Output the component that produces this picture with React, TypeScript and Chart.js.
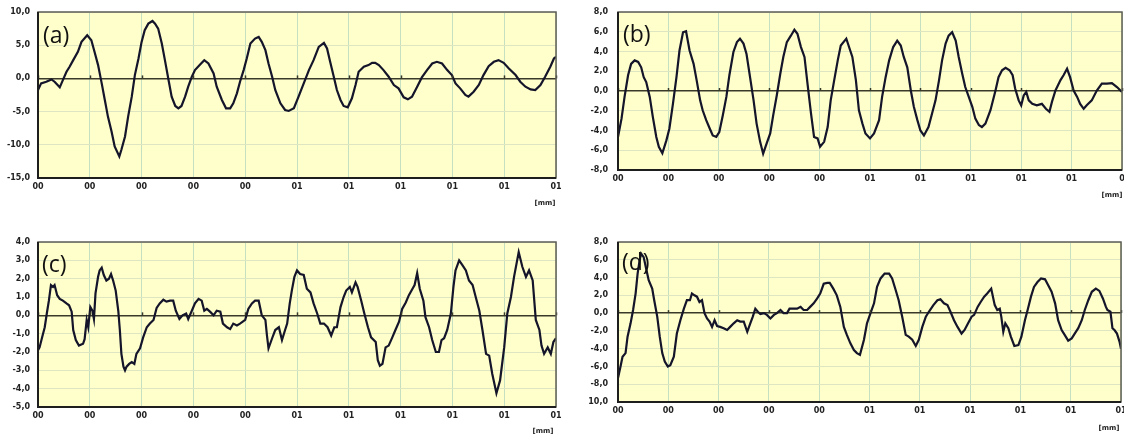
import React, { useEffect, useRef } from "react";
import { Chart, registerables } from "chart.js";
Chart.register(...registerables);

// ---------- tick labels ----------
const xTickLabels = ["00", "00", "00", "00", "00", "01", "01", "01", "01", "01", "01"];
const xTickLabelsB = ["00", "00", "00", "00", "00", "01", "01", "01", "01", "01", "0"];
const yTickLabelsA = ["-15,0", "-10,0", "-5,0", "0,0", "5,0", "10,0"];
const yTickLabelsB = ["-8,0", "-6,0", "-4,0", "-2,0", "0,0", "2,0", "4,0", "6,0", "8,0"];
const yTickLabelsC = ["-5,0", "-4,0", "-3,0", "-2,0", "-1,0", "0,0", "1,0", "2,0", "3,0", "4,0"];
const yTickLabelsD = ["10,0", "-8,0", "-6,0", "-4,0", "-2,0", "0,0", "2,0", "4,0", "6,0", "8,0"];
const panelNames = ["(a)", "(b)", "(c)", "(d)"];
const unitLabel = "[mm]";

// ---------- series (a) ----------
const xA = [0,0.06,0.16,0.26,0.32,0.42,0.48,0.55,0.61,0.68,0.77,0.84,0.95,1.03,1.10,1.16,1.23,1.29,1.35,1.42,
  1.48,1.57,1.61,1.68,1.74,1.81,1.87,1.94,2.00,2.06,2.13,2.21,2.26,2.32,2.39,2.45,2.52,2.58,2.65,2.71,
  2.77,2.84,2.90,2.97,3.03,3.13,3.21,3.29,3.39,3.45,3.55,3.63,3.71,3.77,3.84,3.90,3.97,4.03,4.10,4.19,
  4.26,4.32,4.39,4.45,4.52,4.58,4.68,4.77,4.84,
  4.94,5.03,5.13,5.23,5.32,5.42,5.52,5.58,5.64,5.71,5.77,5.84,5.90,5.98,6.06,6.13,6.19,6.29,6.38,6.45,
  6.51,6.58,6.67,6.77,6.87,6.96,7.06,7.14,7.22,7.32,7.41,7.51,7.61,7.70,7.80,7.90,7.99,8.06,8.15,8.25,
  8.31,8.41,8.51,8.60,8.70,8.80,8.89,8.99,9.09,9.22,9.31,9.41,9.51,9.60,9.70,9.79,9.89,9.96,10.0];
const yA = [-1.75,-0.75,-0.5,-0.15,-0.5,-1.35,-0.25,1,1.75,2.75,4,5.5,6.5,5.75,3.75,2,-0.75,-3.25,-5.75,-8,
  -10.25,-11.75,-10.75,-8.75,-5.75,-2.75,0.5,3,5.5,7.25,8.25,8.65,8.25,7.5,5.25,2.75,-0.25,-2.75,-4.15,-4.5,
  -4.15,-2.75,-1.25,0.25,1.25,2.1,2.75,2.25,0.75,-1.25,-3.25,-4.5,-4.5,-3.75,-2.25,-0.5,1.25,3,5.25,6,
  6.25,5.5,4.25,2.25,0.25,-1.75,-3.75,-4.75,-4.9,
  -4.5,-2.75,-0.75,1.25,2.75,4.75,5.35,4.5,2.5,0.25,-1.75,-3.25,-4.15,-4.35,-3,-1,1,1.75,2,2.35,
  2.35,2,1.25,0.25,-1,-1.5,-2.85,-3.15,-2.75,-1.25,0.15,1.25,2.25,2.5,2.25,1.25,0.5,-0.75,-1.5,-2.5,
  -2.75,-2,-1,0.5,1.85,2.5,2.75,2.35,1.5,0.5,-0.5,-1.25,-1.65,-1.75,-1,0.25,1.75,3,3.25];

// ---------- series (b) ----------
const xB = [0,0.07,0.13,0.20,0.26,0.33,0.40,0.46,0.51,0.56,0.63,0.69,0.76,0.81,0.88,0.96,1.02,1.09,1.16,1.22,
  1.29,1.35,1.42,1.50,1.56,1.63,1.68,1.75,1.82,1.88,1.95,2.01,2.08,2.15,2.21,2.29,2.36,2.42,2.49,2.55,
  2.62,2.69,2.75,2.82,2.88,2.95,3.02,3.08,3.15,3.22,3.28,3.35,3.43,3.50,3.56,3.63,3.70,3.76,3.83,3.89,
  3.96,4.01,4.09,4.16,4.22,4.29,4.36,4.42,4.53,
  4.65,4.72,4.78,4.85,4.91,5.0,5.08,5.18,5.24,5.31,5.38,5.46,5.54,5.61,5.67,5.74,5.81,5.87,5.94,6.0,
  6.07,6.16,6.23,6.30,6.37,6.43,6.50,6.56,6.63,6.70,6.76,6.83,6.89,6.96,7.03,7.09,7.16,7.22,7.29,7.39,
  7.49,7.55,7.62,7.69,7.77,7.83,7.88,7.95,8.0,8.05,8.10,8.15,8.22,8.31,8.41,8.49,8.56,8.61,8.68,8.78,
  8.84,8.91,8.97,9.04,9.11,9.17,9.24,9.30,9.40,9.50,9.60,9.70,9.80,9.90,10.0];
const yB = [-4.65,-2.8,-0.6,1.6,2.75,3.1,2.95,2.4,1.4,0.9,-0.6,-2.6,-4.65,-5.65,-6.3,-5,-3.8,-1.3,1.4,4.1,
  5.95,6.05,4.1,2.75,1.1,-0.95,-1.95,-2.95,-3.8,-4.5,-4.65,-4.15,-2.45,-0.6,1.6,3.95,4.95,5.3,4.8,3.75,
  1.4,-0.95,-3.3,-5.15,-6.35,-5.3,-4.3,-2.45,-0.45,1.75,3.45,4.95,5.6,6.2,5.8,4.45,3.45,0.75,-2.3,-4.65,
  -4.8,-5.65,-5.15,-3.65,-0.95,1.1,3.1,4.6,5.3,
  3.45,1.1,-1.95,-3.3,-4.3,-4.8,-4.3,-2.95,-0.6,1.4,3.1,4.45,5.1,4.6,3.45,2.4,0.05,-1.6,-2.95,-4,
  -4.5,-3.65,-2.3,-0.95,1.1,3.1,4.8,5.6,5.95,5.1,3.45,1.75,0.4,-0.6,-1.6,-2.8,-3.45,-3.65,-3.3,-1.95,
  0.05,1.4,2.1,2.35,2.1,1.6,0.25,-0.95,-1.45,-0.45,-0.1,-0.95,-1.3,-1.45,-1.3,-1.8,-2.1,-1.1,0.05,1.1,
  1.6,2.25,1.4,0.05,-0.6,-1.3,-1.8,-1.45,-0.95,0.05,0.75,0.75,0.8,0.4,-0.1];

// ---------- series (c) ----------
const xC = [0,0.03,0.08,0.13,0.17,0.21,0.25,0.29,0.32,0.37,0.42,0.48,0.55,0.60,0.65,0.68,0.73,0.79,0.87,0.90,
  0.94,0.97,1.01,1.05,1.08,1.11,1.16,1.19,1.23,1.27,1.32,1.37,1.41,1.45,1.50,1.55,1.58,1.61,1.65,1.68,
  1.71,1.76,1.81,1.86,1.90,1.97,2.03,2.10,2.16,2.23,2.29,2.35,2.42,2.48,2.55,2.61,2.66,2.73,2.79,2.86,
  2.90,2.97,3.03,3.10,3.16,3.21,3.26,3.32,3.39,3.45,3.52,3.57,3.65,3.71,3.77,3.84,3.90,4.0,4.06,4.13,
  4.19,4.26,4.32,4.39,4.42,4.45,4.52,4.58,4.65,4.71,4.77,
  4.81,4.86,4.90,4.95,5.0,5.06,5.13,5.19,5.26,5.32,5.39,5.45,5.52,5.59,5.66,5.72,5.77,5.84,5.90,5.95,
  6.02,6.06,6.13,6.17,6.24,6.30,6.37,6.43,6.52,6.56,6.60,6.65,6.71,6.77,6.84,6.90,6.97,7.03,7.10,7.16,
  7.23,7.27,7.32,7.37,7.44,7.48,7.55,7.61,7.68,7.74,7.79,7.84,7.90,7.97,8.02,8.06,8.13,8.19,8.26,8.32,
  8.39,8.45,8.52,8.58,8.65,8.71,8.77,8.85,8.92,9.0,9.06,9.13,9.19,9.28,9.35,9.42,9.48,9.55,9.61,9.68,
  9.72,9.77,9.84,9.90,9.95,10.0];
const yC = [-1.9,-1.75,-1.2,-0.65,0.1,0.8,1.65,1.55,1.65,1.1,0.9,0.8,0.65,0.55,0.2,-0.8,-1.35,-1.65,-1.55,-1.3,
  -0.25,-0.65,0.45,0.25,-0.2,1.2,2.1,2.45,2.6,2.2,1.9,2.0,2.25,1.9,1.35,0.25,-0.8,-2.1,-2.8,-3.0,
  -2.8,-2.65,-2.55,-2.65,-2.1,-1.8,-1.2,-0.65,-0.45,-0.25,0.4,0.65,0.85,0.75,0.8,0.8,0.25,-0.2,0,0.1,
  -0.2,0.25,0.65,0.9,0.8,0.25,0.35,0.2,0,0.25,0.2,-0.45,-0.65,-0.75,-0.45,-0.55,-0.45,-0.25,0.35,0.65,
  0.8,0.8,0,-0.25,-1.1,-1.8,-1.25,-0.8,-0.65,-1.35,-0.8,
  -0.45,0.65,1.35,2.1,2.45,2.25,2.2,1.45,1.25,0.65,0.1,-0.45,-0.45,-0.65,-1.1,-0.65,-0.65,0.45,1.0,1.35,
  1.55,1.25,1.8,1.55,0.8,0.1,-0.65,-1.2,-1.45,-2.45,-2.75,-2.65,-1.75,-1.65,-1.2,-0.8,-0.35,0.35,0.7,1.1,
  1.45,1.65,2.3,1.45,0.8,-0.1,-0.65,-1.35,-2.0,-2.0,-1.35,-1.25,-0.8,0.1,1.55,2.45,3.0,2.75,2.45,1.9,
  1.65,1.0,0.25,-0.8,-2.1,-2.2,-3.2,-4.25,-3.55,-1.75,0.1,1.0,2.1,3.45,2.65,2.1,2.45,1.9,-0.25,-0.8,
  -1.65,-2.1,-1.75,-2.1,-1.45,-1.25];

// ---------- series (d) ----------
const xD = [0,0.05,0.09,0.15,0.19,0.25,0.30,0.35,0.39,0.43,0.46,0.51,0.56,0.61,0.68,0.72,0.78,0.83,0.88,0.93,
  0.99,1.04,1.11,1.17,1.24,1.31,1.37,1.43,1.47,1.52,1.57,1.62,1.67,1.72,1.77,1.82,1.87,1.92,1.97,2.03,
  2.10,2.17,2.23,2.30,2.37,2.43,2.50,2.57,2.63,2.68,2.73,2.78,2.83,2.90,2.96,3.03,3.10,3.16,3.23,3.29,
  3.36,3.41,3.49,3.56,3.63,3.69,3.76,3.82,3.89,3.96,4.02,4.09,4.16,4.21,4.28,4.35,4.42,4.49,4.55,4.62,
  4.69,4.75,4.81,
  4.89,4.95,5.02,5.09,5.15,5.22,5.30,5.39,5.45,5.52,5.58,5.65,5.72,5.78,5.85,5.92,5.98,6.05,6.12,6.18,
  6.27,6.35,6.41,6.48,6.55,6.61,6.68,6.75,6.83,6.89,6.96,7.03,7.08,7.15,7.21,7.28,7.34,7.42,7.49,7.54,
  7.59,7.62,7.66,7.70,7.76,7.81,7.88,7.96,8.02,8.09,8.15,8.21,8.27,8.34,8.41,8.49,8.55,8.62,8.69,8.75,
  8.82,8.88,8.95,9.02,9.08,9.15,9.22,9.28,9.35,9.42,9.50,9.57,9.64,9.70,9.73,9.79,9.83,9.87,9.92,9.97,
  10.0];
const yD = [-7.3,-6.0,-4.9,-4.5,-2.65,-1.15,0.35,2.2,4.45,5.95,6.7,6.3,5.0,3.7,2.75,1.45,-0.4,-2.65,-4.5,-5.45,
  -6.0,-5.85,-4.9,-2.3,-0.8,0.5,1.45,1.45,2.2,2.0,1.85,1.25,1.45,0,-0.6,-0.95,-1.55,-0.8,-1.45,-1.55,
  -1.7,-1.9,-1.55,-1.15,-0.8,-0.95,-0.95,-2.1,-1.15,-0.4,0.5,0.15,-0.1,0,-0.2,-0.6,-0.2,0,0.35,0,
  0,0.5,0.5,0.5,0.7,0.35,0.35,0.7,1.1,1.65,2.2,3.3,3.4,3.4,2.75,2.0,0.7,-1.55,-2.45,-3.4,
  -4.15,-4.5,-4.7,
  -3.0,-1.15,0,1.1,2.95,3.9,4.45,4.45,3.9,2.6,1.45,-0.4,-2.45,-2.65,-3.0,-3.7,-3.0,-1.55,-0.4,0.15,
  0.9,1.45,1.55,1.1,0.9,0.15,-0.8,-1.55,-2.3,-1.9,-1.15,-0.4,-0.2,0.7,1.25,1.85,2.2,2.75,0.9,0.35,
  0.5,-0.4,-2.1,-1.15,-1.7,-2.65,-3.7,-3.6,-2.65,-0.8,0.5,1.85,2.95,3.5,3.9,3.8,3.15,2.4,1.1,-0.8,
  -1.9,-2.45,-3.1,-2.85,-2.3,-1.7,-0.8,0.35,1.45,2.4,2.75,2.5,1.65,0.7,0.35,0.15,-1.7,-1.9,-2.3,-3.2,
  -4.0];

// ---------- panel layout ----------
type Panel = {
  name: string; xs: number[]; ys: number[];
  yMin: number; yMax: number; yStep: number;
  xLabels: string[]; yLabels: string[];
  left: number; top: number; w: number; h: number;
  padTop: number; padRight: number; yW: number; xH: number;
  nameX: number; nameY: number; unitX: number; unitY: number;
  yPad: number;
};

const panels: Panel[] = [
  { name: panelNames[0], xs: xA, ys: yA, yMin: -15, yMax: 10, yStep: 5, xLabels: xTickLabels, yLabels: yTickLabelsA,
    left: 0, top: 0, w: 564, h: 216, padTop: 12, padRight: 8, yW: 38, xH: 38,
    nameX: 43, nameY: 36, unitX: 545, unitY: 203, yPad: 8 },
  { name: panelNames[1], xs: xB, ys: yB, yMin: -8, yMax: 8, yStep: 2, xLabels: xTickLabelsB, yLabels: yTickLabelsB,
    left: 570, top: 0, w: 554, h: 216, padTop: 12, padRight: 2, yW: 48, xH: 46,
    nameX: 53, nameY: 35, unitX: 542, unitY: 195, yPad: 10 },
  { name: panelNames[2], xs: xC, ys: yC, yMin: -5, yMax: 4, yStep: 1, xLabels: xTickLabels, yLabels: yTickLabelsC,
    left: 0, top: 218, w: 564, h: 218, padTop: 24, padRight: 8, yW: 38, xH: 29,
    nameX: 42, nameY: 47, unitX: 543, unitY: 213, yPad: 8 },
  { name: panelNames[3], xs: xD, ys: yD, yMin: -10, yMax: 8, yStep: 2, xLabels: xTickLabels, yLabels: yTickLabelsD,
    left: 570, top: 218, w: 554, h: 218, padTop: 24, padRight: 3, yW: 48, xH: 34,
    nameX: 52, nameY: 45, unitX: 539, unitY: 210, yPad: 10 },
];

const tickFont = { family: "'DejaVu Sans', sans-serif", size: 8, weight: "bold" as const };

const decoPlugin = {
  id: "panelDeco",
  beforeDraw(chart: any) {
    const { ctx, chartArea: a } = chart;
    ctx.save();
    ctx.fillStyle = "#FFFFCC";
    ctx.fillRect(a.left, a.top, a.right - a.left, a.bottom - a.top);
    ctx.restore();
  },
  afterDatasetsDraw(chart: any, _args: any, opts: any) {
    const { ctx, chartArea: a, scales } = chart;
    ctx.save();
    // small tick marks on the zero line
    const y0 = scales.y.getPixelForValue(0);
    ctx.strokeStyle = "#3a3a2a";
    ctx.lineWidth = 1.5;
    scales.x.ticks.forEach((t: any) => {
      const px = Math.round(scales.x.getPixelForValue(t.value)) + 0.5;
      ctx.beginPath();
      ctx.moveTo(px, y0 - 3);
      ctx.lineTo(px, y0);
      ctx.stroke();
    });
    // frame
    ctx.strokeStyle = "#5e5e56";
    ctx.lineWidth = 1.5;
    ctx.strokeRect(a.left, a.top, a.right - a.left, a.bottom - a.top);
    ctx.strokeStyle = "#1e1e1e";
    ctx.lineWidth = 2;
    ctx.beginPath();
    ctx.moveTo(a.left, a.top);
    ctx.lineTo(a.left, a.bottom);
    ctx.lineTo(a.right, a.bottom);
    ctx.stroke();
    // panel name
    ctx.fillStyle = "#111111";
    ctx.font = "23px 'Open Sans', sans-serif";
    ctx.textBaseline = "middle";
    ctx.textAlign = "left";
    ctx.fillText(opts.name, opts.nameX, opts.nameY);
    // unit
    ctx.font = "bold 7px 'DejaVu Sans', sans-serif";
    ctx.textAlign = "center";
    ctx.fillStyle = "#222222";
    ctx.fillText(unitLabel, opts.unitX, opts.unitY);
    ctx.restore();
  },
};

function PanelChart({ p }: { p: Panel }) {
  const ref = useRef<HTMLCanvasElement | null>(null);
  useEffect(() => {
    if (!ref.current) return;
    const data = p.xs.map((x, i) => ({ x, y: p.ys[i] }));
    const chart = new Chart(ref.current, {
      type: "line",
      data: {
        datasets: [
          { data, borderColor: "#14142a", borderWidth: 2.2, pointRadius: 0, tension: 0, fill: false },
        ],
      },
      options: {
        animation: false,
        responsive: false,
        devicePixelRatio: 1,
        events: [],
        layout: { padding: { top: p.padTop, right: p.padRight, left: 0, bottom: 0 } },
        plugins: {
          legend: { display: false },
          tooltip: { enabled: false },
          panelDeco: { name: p.name, nameX: p.nameX, nameY: p.nameY, unitX: p.unitX, unitY: p.unitY },
        } as any,
        scales: {
          x: {
            type: "linear",
            min: 0,
            max: 10,
            ticks: {
              stepSize: 1,
              autoSkip: false,
              maxRotation: 0,
              padding: 4,
              color: "#222222",
              font: tickFont,
              callback: (_v: any, i: number) => p.xLabels[i],
            },
            grid: { color: "#c4e0c0", lineWidth: 1, drawTicks: false },
            border: { display: false },
            afterFit: (s: any) => {
              s.height = p.xH;
              s.paddingLeft = 0;
              s.paddingRight = 0;
            },
          },
          y: {
            type: "linear",
            min: p.yMin,
            max: p.yMax,
            ticks: {
              stepSize: p.yStep,
              autoSkip: false,
              padding: p.yPad,
              color: "#222222",
              font: tickFont,
              callback: (_v: any, i: number) => p.yLabels[i],
            },
            grid: {
              color: (c: any) => (c.tick && c.tick.value === 0 ? "#3a3a2a" : "#dde6c0"),
              lineWidth: (c: any) => (c.tick && c.tick.value === 0 ? 1.5 : 1),
              drawTicks: false,
            },
            border: { display: false },
            afterFit: (s: any) => {
              s.width = p.yW;
              s.paddingTop = 0;
              s.paddingBottom = 0;
            },
          },
        },
      } as any,
      plugins: [decoPlugin as any],
    });
    return () => chart.destroy();
  }, [p]);
  return (
    <canvas
      ref={ref}
      width={p.w}
      height={p.h}
      style={{ position: "absolute", left: p.left, top: p.top, width: p.w, height: p.h }}
    />
  );
}

export default function App() {
  return (
    <div
      style={{
        position: "fixed",
        left: 0,
        top: 0,
        width: 1124,
        height: 436,
        overflow: "hidden",
        background: "#ffffff",
      }}
    >
      {panels.map((p) => (
        <PanelChart key={p.name} p={p} />
      ))}
    </div>
  );
}
